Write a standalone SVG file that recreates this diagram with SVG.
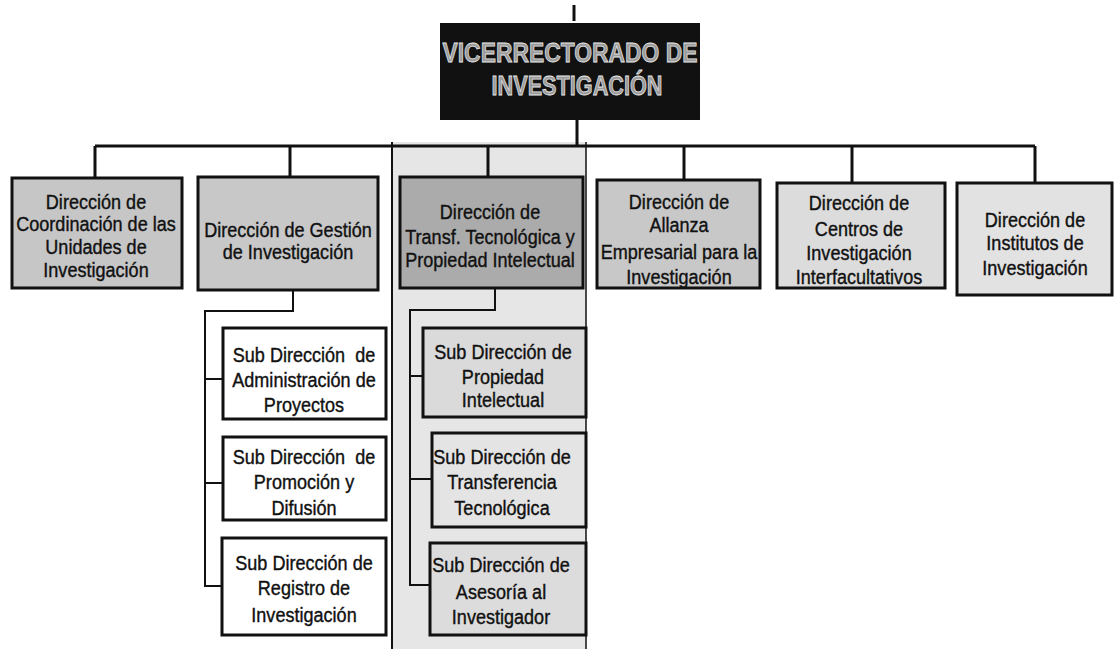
<svg xmlns="http://www.w3.org/2000/svg" width="1117" height="649" viewBox="0 0 1117 649">
<style>
.t{font-family:"Liberation Sans",Arial,sans-serif;font-size:21px;fill:#111;stroke:#111;stroke-width:0.4;text-anchor:middle}
.b{stroke:#111;stroke-width:3}
.c{stroke:#111;stroke-width:3;fill:none}
.c2{stroke:#111;stroke-width:2;fill:none}
.top{font-family:"Liberation Sans",Arial,sans-serif;font-size:28px;font-weight:bold;fill:#9a9a9a;stroke:#e8e8e8;stroke-width:0.8;text-anchor:middle}
</style>
<rect width="1117" height="649" fill="#fff"/>
<g id="band">
<rect x="392" y="142" width="194" height="507" fill="#e6e6e6"/>
<line x1="392" y1="142" x2="392" y2="649" stroke="#111" stroke-width="2"/>
<line x1="586" y1="142" x2="586" y2="649" stroke="#111" stroke-width="1.5"/>
</g>
<g id="connectors">
<line class="c" x1="574" y1="5" x2="574" y2="21" stroke-width="4"/>
<line class="c" x1="577" y1="120" x2="577" y2="146"/>
<line class="c" x1="95" y1="146" x2="1035" y2="146"/>
<line class="c" x1="95" y1="146" x2="95" y2="178"/>
<line class="c" x1="290" y1="146" x2="290" y2="177"/>
<line class="c" x1="488" y1="146" x2="488" y2="177"/>
<line class="c" x1="684" y1="146" x2="684" y2="180"/>
<line class="c" x1="852" y1="146" x2="852" y2="183"/>
<line class="c" x1="1035" y1="146" x2="1035" y2="183"/>
<polyline class="c2" points="293,290 293,311 205,311 205,586 222,586"/>
<line class="c2" x1="205" y1="379" x2="223" y2="379"/>
<line class="c2" x1="205" y1="483" x2="223" y2="483"/>
<polyline class="c2" points="495,288 495,310 410,310 410,585 430,585"/>
<line class="c2" x1="410" y1="376" x2="423" y2="376"/>
<line class="c2" x1="410" y1="479" x2="432" y2="479"/>
</g>
<g id="vicerrectorado">
<rect x="440" y="23" width="260" height="97" fill="#111"/>
<text class="top" x="570" y="62" textLength="255" lengthAdjust="spacingAndGlyphs">VICERRECTORADO DE</text>
<text class="top" x="577" y="95" textLength="171" lengthAdjust="spacingAndGlyphs">INVESTIGACIÓN</text>
</g>
<g id="d_coordinacion">
<rect class="b" x="12" y="178" width="170" height="110" fill="#c6c6c6"/>
<text class="t" transform="translate(96,209) scale(0.86,1)">Dirección de</text>
<text class="t" transform="translate(96,231) scale(0.86,1)">Coordinación de las</text>
<text class="t" transform="translate(96,254) scale(0.86,1)">Unidades de</text>
<text class="t" transform="translate(96,277) scale(0.86,1)">Investigación</text>
</g>
<g id="d_gestion">
<rect class="b" x="198" y="177" width="180" height="113" fill="#c8c8c8"/>
<text class="t" transform="translate(288,237) scale(0.86,1)">Dirección de Gestión</text>
<text class="t" transform="translate(288,259) scale(0.86,1)">de Investigación</text>
</g>
<g id="d_transf">
<rect class="b" x="400" y="177" width="183" height="111" fill="#ababab"/>
<text class="t" transform="translate(490,219) scale(0.86,1)">Dirección de</text>
<text class="t" transform="translate(490,244) scale(0.86,1)">Transf. Tecnológica y</text>
<text class="t" transform="translate(490,267) scale(0.86,1)">Propiedad Intelectual</text>
</g>
<g id="d_alianza">
<rect class="b" x="597" y="180" width="163" height="108" fill="#c8c8c8"/>
<text class="t" transform="translate(679,209) scale(0.86,1)">Dirección de</text>
<text class="t" transform="translate(679,232) scale(0.86,1)">Allanza</text>
<text class="t" transform="translate(679,259) scale(0.86,1)">Empresarial para la</text>
<text class="t" transform="translate(679,284) scale(0.86,1)">Investigación</text>
</g>
<g id="d_centros">
<rect class="b" x="777" y="183" width="168" height="105" fill="#dcdcdc"/>
<text class="t" transform="translate(859,210) scale(0.86,1)">Dirección de</text>
<text class="t" transform="translate(859,236) scale(0.86,1)">Centros de</text>
<text class="t" transform="translate(859,260) scale(0.86,1)">Investigación</text>
<text class="t" transform="translate(859,284) scale(0.86,1)">Interfacultativos</text>
</g>
<g id="d_institutos">
<rect class="b" x="957" y="183" width="155" height="112" fill="#e2e2e2"/>
<text class="t" transform="translate(1035,227) scale(0.86,1)">Dirección de</text>
<text class="t" transform="translate(1035,250) scale(0.86,1)">Institutos de</text>
<text class="t" transform="translate(1035,275) scale(0.86,1)">Investigación</text>
</g>
<g id="s_administracion">
<rect class="b" x="223" y="328" width="163" height="91" fill="#fff"/>
<text class="t" transform="translate(304,362) scale(0.86,1)">Sub Dirección &#160;de</text>
<text class="t" transform="translate(304,387) scale(0.86,1)">Administración de</text>
<text class="t" transform="translate(304,412) scale(0.86,1)">Proyectos</text>
</g>
<g id="s_promocion">
<rect class="b" x="223" y="437" width="163" height="83" fill="#fff"/>
<text class="t" transform="translate(304,464) scale(0.86,1)">Sub Dirección &#160;de</text>
<text class="t" transform="translate(304,489) scale(0.86,1)">Promoción y</text>
<text class="t" transform="translate(304,515) scale(0.86,1)">Difusión</text>
</g>
<g id="s_registro">
<rect class="b" x="222" y="538" width="164" height="97" fill="#fff"/>
<text class="t" transform="translate(304,570) scale(0.86,1)">Sub Dirección de</text>
<text class="t" transform="translate(304,595) scale(0.86,1)">Registro de</text>
<text class="t" transform="translate(304,622) scale(0.86,1)">Investigación</text>
</g>
<g id="s_propiedad">
<rect class="b" x="423" y="328" width="163" height="89" fill="#dadada"/>
<text class="t" transform="translate(503,359) scale(0.86,1)">Sub Dirección de</text>
<text class="t" transform="translate(503,384) scale(0.86,1)">Propiedad</text>
<text class="t" transform="translate(503,407) scale(0.86,1)">Intelectual</text>
</g>
<g id="s_transferencia">
<rect class="b" x="432" y="433" width="154" height="94" fill="#e4e4e4"/>
<text class="t" transform="translate(502,464) scale(0.86,1)">Sub Dirección de</text>
<text class="t" transform="translate(502,489) scale(0.86,1)">Transferencia</text>
<text class="t" transform="translate(502,515) scale(0.86,1)">Tecnológica</text>
</g>
<g id="s_asesoria">
<rect class="b" x="430" y="543" width="156" height="92" fill="#dcdcdc"/>
<text class="t" transform="translate(501,572) scale(0.86,1)">Sub Dirección de</text>
<text class="t" transform="translate(501,599) scale(0.86,1)">Asesoría al</text>
<text class="t" transform="translate(501,624) scale(0.86,1)">Investigador</text>
</g>
</svg>
